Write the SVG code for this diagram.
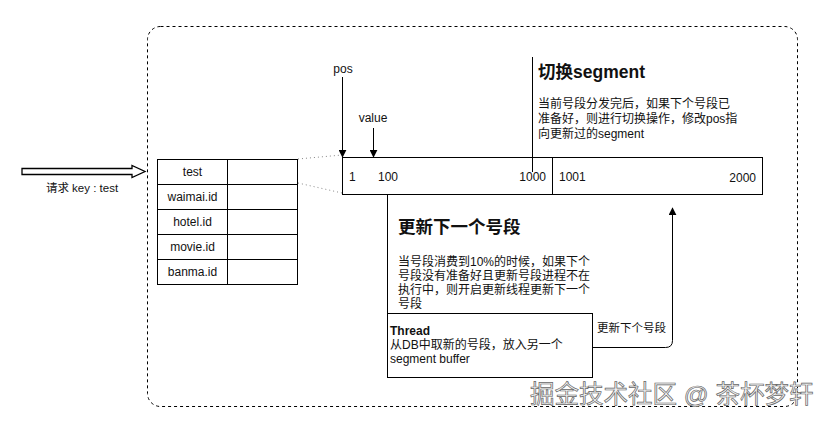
<svg xmlns="http://www.w3.org/2000/svg" width="830" height="422" viewBox="0 0 830 422">
<defs>
<style>
text{font-family:"Liberation Sans","Noto Sans CJK SC",sans-serif;fill:#111;}
.t12{font-size:12px;}
.t11{font-size:11.5px;}
.h{font-size:17.5px;font-weight:bold;}
.b{font-weight:bold;}
.ln{stroke:#000;stroke-width:1;fill:none;}
.box{fill:#fff;stroke:#000;stroke-width:1;}
.dot{stroke:#888;stroke-width:1;stroke-dasharray:1,3;fill:none;}
.mid{text-anchor:middle;}
.end{text-anchor:end;}
</style>
<marker id="ah" viewBox="0 0 10 10" refX="9" refY="5" markerWidth="8" markerHeight="8" orient="auto" markerUnits="userSpaceOnUse">
<path d="M0,0 L10,5 L0,10 z" fill="#000"/>
</marker>
</defs>
<rect width="830" height="422" fill="#fff"/>
<rect id="container" x="147.5" y="26.5" width="650" height="380" rx="13" fill="none" stroke="#000" stroke-width="1" stroke-dasharray="3,3"/>

<g id="request">
<path d="M22,168.5 H132 V165.5 L145,171.5 L132,177.5 V174.5 H22 Z" fill="#fff" stroke="#000" stroke-width="1.3"/>
<text class="t11 mid" x="82" y="192">请求 key : test</text>
</g>

<g id="table">
<rect class="box" x="157.5" y="159.5" width="140" height="125"/>
<path class="ln" d="M227.5,159.5 V284.5 M157.5,184.5 H297.5 M157.5,209.5 H297.5 M157.5,234.5 H297.5 M157.5,259.5 H297.5"/>
<text class="t12 mid" x="192.5" y="176">test</text>
<text class="t12 mid" x="192.5" y="201">waimai.id</text>
<text class="t12 mid" x="192.5" y="226">hotel.id</text>
<text class="t12 mid" x="192.5" y="251">movie.id</text>
<text class="t12 mid" x="192.5" y="276">banma.id</text>
</g>

<g id="segments">
<rect class="box" x="342.5" y="157.5" width="420" height="37"/>
<path class="ln" d="M552.5,157.5 V194.5"/>
<text class="t12" x="349" y="181">1</text>
<text class="t12" x="378" y="181">100</text>
<text class="t12 end" x="546" y="181">1000</text>
<text class="t12" x="559" y="181">1001</text>
<text class="t12 end" x="756" y="182">2000</text>
</g>

<g id="pos">
<text class="t12 mid" x="343" y="73">pos</text>
</g>
<g id="value">
<text class="t12 mid" x="373" y="122">value</text>
</g>

<g id="switch-note">
<text class="h" x="538" y="78">切换segment</text>
<text class="t12" x="538" y="108">当前号段分发完后，如果下个号段已</text>
<text class="t12" x="538" y="123">准备好，则进行切换操作，修改pos指</text>
<text class="t12" x="538" y="138">向更新过的segment</text>
</g>

<g id="update-note">
<text class="h" x="398" y="233">更新下一个号段</text>
<text class="t12" x="398" y="266">当号段消费到10%的时候，如果下个</text>
<text class="t12" x="398" y="280">号段没有准备好且更新号段进程不在</text>
<text class="t12" x="398" y="294">执行中，则开启更新线程更新下一个</text>
<text class="t12" x="398" y="308">号段</text>
</g>

<g id="thread">
<rect class="box" x="387.5" y="313.5" width="205" height="64"/>
<text class="t12 b" x="390" y="335">Thread</text>
<text class="t12" x="390" y="349">从DB中取新的号段，放入另一个</text>
<text class="t12" x="390" y="363">segment buffer</text>
</g>

<g id="connectors">
<path class="dot" d="M298,159 L342,155"/>
<path class="dot" d="M298,183 L342,193"/>
<path class="ln" d="M342.5,77 V157" marker-end="url(#ah)"/>
<path class="ln" d="M373.5,128 V157" marker-end="url(#ah)"/>
<path class="ln" d="M532.5,57 V172"/>
<path class="ln" d="M387.5,194.5 V313"/>
<path class="ln" d="M592.5,347.5 H665.5 Q672.5,347.5 672.5,340.5 V208" marker-end="url(#ah)"/>
<text class="t11" x="597" y="332">更新下个号段</text>
</g>

<text x="530" y="403" style="font-size:24.5px;fill:#f2f2f2;stroke:#666;stroke-width:0.7;">掘金技术社区 @ 茶杯梦轩</text>
</svg>
